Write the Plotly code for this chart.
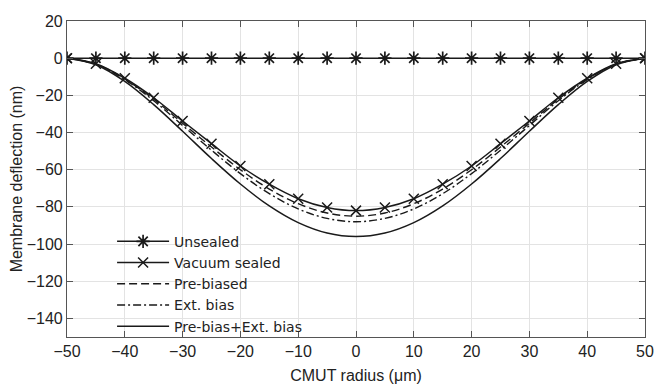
import plotly.graph_objects as go

radius = [-50, -45, -40, -35, -30, -25, -20, -15, -10, -5, 0, 5, 10, 15, 20, 25, 30, 35, 40, 45, 50]

unsealed = [0] * 21
vacuum_half = [0, -3.0, -10.8, -21.3, -33.8, -46.0, -58.0, -67.8, -75.6, -80.3, -82.0]
prebias_half = [0, -3.2, -11.2, -22.1, -35.0, -47.8, -60.0, -70.4, -78.3, -83.3, -85.0]
extbias_half = [0, -3.3, -11.5, -22.9, -36.2, -49.5, -62.1, -72.9, -81.1, -86.2, -88.0]
both_half = [0, -3.5, -12.5, -25.0, -39.3, -54.0, -67.7, -79.5, -88.5, -94.1, -96.0]

def mirror(h):
    return h + h[-2::-1]

vacuum = mirror(vacuum_half)
prebias = mirror(prebias_half)
extbias = mirror(extbias_half)
both = mirror(both_half)

C = "#1a1a1a"
fig = go.Figure()
fig.add_trace(go.Scatter(x=radius, y=unsealed, name="Unsealed", mode="lines+markers",
                         line=dict(color=C, width=1.5),
                         marker=dict(symbol="asterisk-open", size=11, color=C, line=dict(width=1.7, color=C))))
fig.add_trace(go.Scatter(x=radius, y=vacuum, name="Vacuum sealed", mode="lines+markers",
                         line=dict(color=C, width=1.5, shape="spline"),
                         marker=dict(symbol="x-thin-open", size=10, color=C, line=dict(width=1.5, color=C))))
fig.add_trace(go.Scatter(x=radius, y=prebias, name="Pre-biased", mode="lines",
                         line=dict(color=C, width=1.4, dash="8px,4px", shape="spline")))
fig.add_trace(go.Scatter(x=radius, y=extbias, name="Ext. bias", mode="lines",
                         line=dict(color=C, width=1.4, dash="8px,3px,2px,3px", shape="spline")))
fig.add_trace(go.Scatter(x=radius, y=both, name="Pre-bias+Ext. bias", mode="lines",
                         line=dict(color=C, width=1.5, shape="spline")))

axis_common = dict(showline=True, linecolor="#555", linewidth=1.2, mirror="ticks",
                   ticks="inside", ticklen=6, tickcolor="#555",
                   showgrid=True, gridcolor="#e3e3e3", gridwidth=1, zeroline=False,
                   ticklabeloverflow="allow", automargin=False,
                   tickfont=dict(size=16, color="#222"))

fig.update_layout(
    width=655, height=388,
    margin=dict(l=67, r=10, t=21, b=51),
    paper_bgcolor="white", plot_bgcolor="white",
    font=dict(family="Liberation Sans, Arial, sans-serif", color="#222"),
    xaxis=dict(range=[-50, 50], tickvals=list(range(-50, 51, 10)),
               title=dict(text="CMUT radius (μm)", font=dict(size=16), standoff=10),
               **axis_common),
    yaxis=dict(range=[-150, 20], tickvals=list(range(-140, 21, 20)),
               title=dict(text="Membrane deflection (nm)", font=dict(size=16), standoff=0),
               **axis_common),
    legend=dict(x=0.078, y=0.352, xanchor="left", yanchor="top",
                bgcolor="rgba(0,0,0,0)",
                font=dict(size=14, family="DejaVu Sans, sans-serif"), itemwidth=52,
                tracegroupgap=0),
    showlegend=True,
)

fig.write_html("out.html")
